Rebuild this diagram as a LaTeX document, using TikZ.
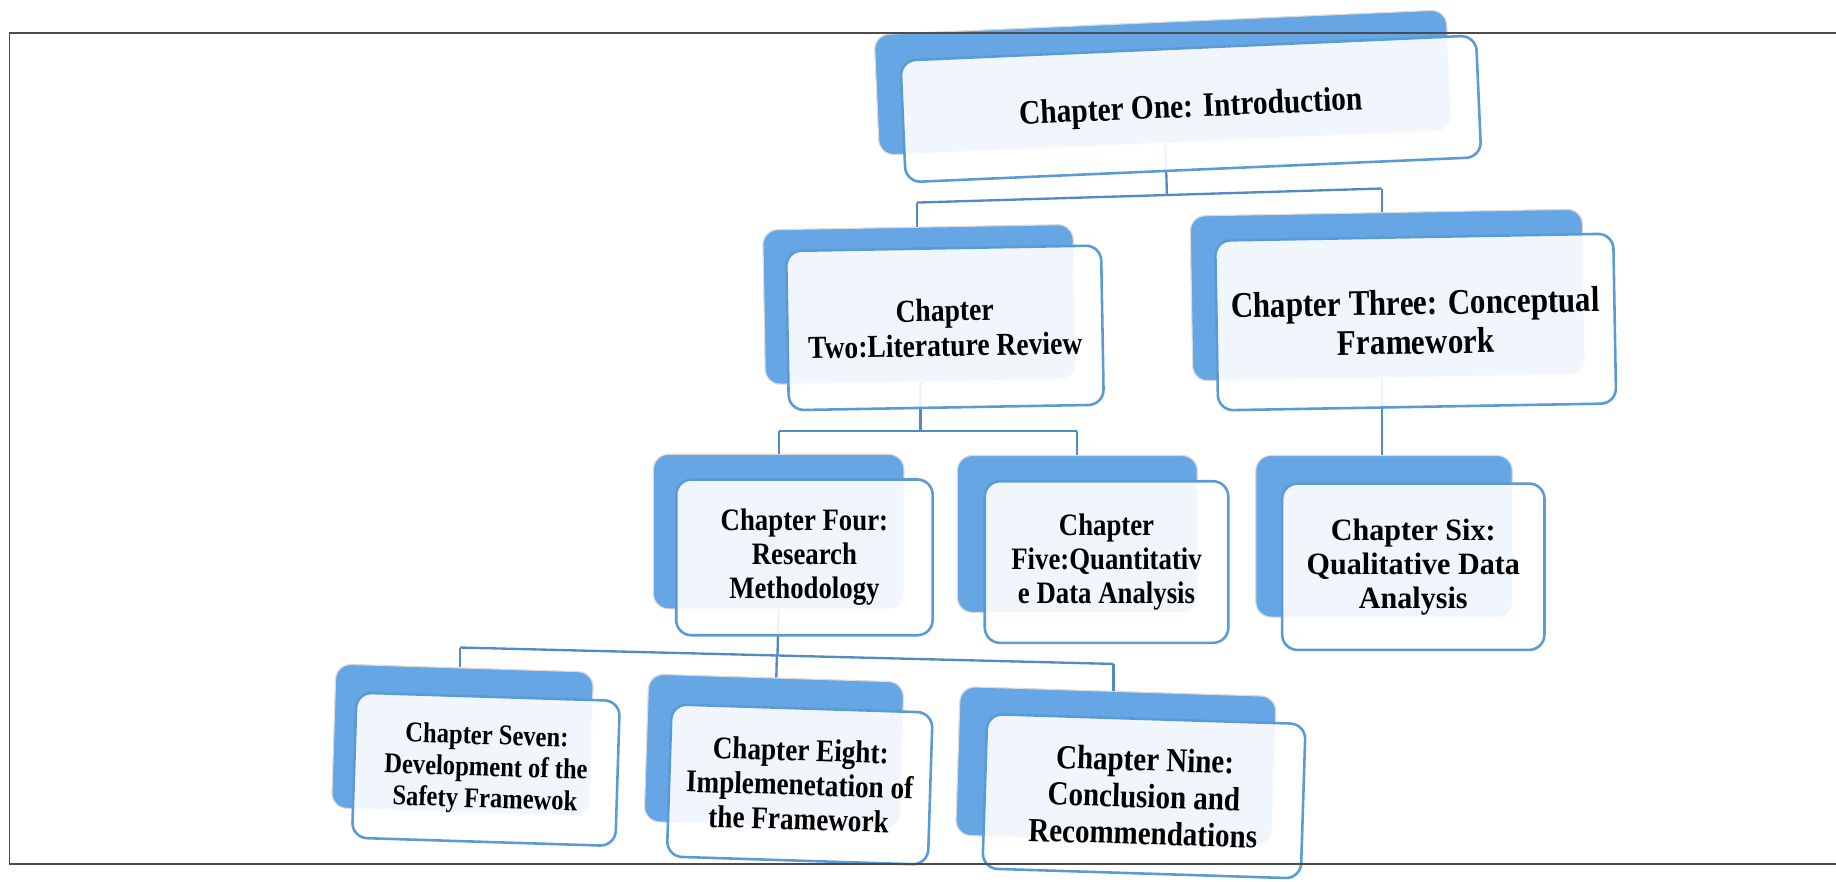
\documentclass[tikz,border=0pt]{standalone}
\usepackage{fontspec}
\usetikzlibrary{calc}
\newfontfamily\chapfont{Liberation Serif}[FakeStretch=0.86]
\newfontfamily\chapwide{Liberation Serif}[FakeStretch=0.97]
\definecolor{backblue}{RGB}{102,166,228}
\definecolor{edgeblue}{RGB}{91,155,213}
\definecolor{linkblue}{RGB}{84,138,196}
\tikzset{
  backbox/.style={rounded corners=13pt, fill=backblue, draw=black!14, line width=1pt, inner sep=0pt},
  frontbox/.style={rounded corners=13pt, fill=white, fill opacity=0.9, text opacity=1,
    draw=edgeblue, draw opacity=1, line width=2.2pt, inner sep=0pt, align=center},
  fs/.style 2 args={font=\chapfont\bfseries\fontsize{#1}{#2}\selectfont},
  fsw/.style 2 args={font=\chapwide\bfseries\fontsize{#1}{#2}\selectfont},
  link/.style={draw=linkblue, line width=2pt},
  frameline/.style={draw=black!70, line width=1.3pt}
}
\begin{document}
\begin{tikzpicture}[x=1pt, y=-1pt]
\useasboundingbox (0,0) rectangle (1568,753);

% back panels of every chapter
\node[backbox, minimum width=489pt, minimum height=103pt, rotate=2.5] (c1b) at (993,70.5) {};
\node[backbox, minimum width=265pt, minimum height=132pt, rotate=1] (c2b) at (785,260) {};
\node[backbox, minimum width=335pt, minimum height=141pt, rotate=1] (c3b) at (1185,252) {};
\node[backbox, minimum width=214pt, minimum height=132pt] (c4b) at (665,454) {};
\node[backbox, minimum width=205pt, minimum height=134pt] (c5b) at (920,456) {};
\node[backbox, minimum width=219pt, minimum height=138pt] (c6b) at (1182,458) {};
\node[backbox, minimum width=220pt, minimum height=123pt, rotate=-1.8] (c7b) at (395,632) {};
\node[backbox, minimum width=218pt, minimum height=126pt, rotate=-1.8] (c8b) at (661,642) {};
\node[backbox, minimum width=270pt, minimum height=127pt, rotate=-1.8] (c9b) at (953,654) {};

% bus junctions
\coordinate (j1l) at (783,173);
\coordinate (j1r) at (1180,161);
\coordinate (j2l) at (665,368);
\coordinate (j2r) at (920,368);
\coordinate (j4l) at (393,553);
\coordinate (j4r) at (951,567);

% connectors
\draw[link] (c1b.south) -- ($(j1l)!(c1b.south)!(j1r)$);
\draw[link] (j1l) -- (j1r);
\draw[link] (j1l) -- (j1l |- c2b.north);
\draw[link] (j1r) -- (j1r |- c3b.north);

\draw[link] (c2b.south) -- (c2b.south |- j2l);
\draw[link] (j2l) -- (j2r);
\draw[link] (j2l) -- (j2l |- c4b.north);
\draw[link] (j2r) -- (j2r |- c5b.north);

\draw[link] (c3b.south -| j1r) -- (j1r |- c6b.north);

\draw[link] (c4b.south) -- ($(j4l)!(c4b.south)!(j4r)$);
\draw[link] (j4l) -- (j4r);
\draw[link] (j4l) -- (j4l |- c7b.north);
\draw[link] ($(j4l)!(c8b.north)!(j4r)$) -- (c8b.north);
\draw[link] (j4r) -- (j4r |- c9b.north);

% front panels with the chapter titles
\node[frontbox, minimum width=492pt, minimum height=104pt, rotate=2.5, fs={29.2}{32}] (c1) at (1017,93)
  {Chapter One: Introduction};
\node[frontbox, minimum width=269pt, minimum height=136pt, rotate=1, fs={27.4}{30}] (c2) at (807,280)
  {Chapter\\Two:Literature Review};
\node[frontbox, minimum width=340pt, minimum height=145pt, rotate=1, fs={30.8}{33.5}] (c3) at (1209,275)
  {Chapter Three: Conceptual\\Framework};
\node[frontbox, minimum width=219pt, minimum height=133pt, fs={26.6}{29}] (c4) at (687,476)
  {Chapter Four:\\Research\\Methodology};
\node[frontbox, minimum width=208pt, minimum height=138pt, fs={26.6}{29}] (c5) at (945,480)
  {Chapter\\Five:Quantitativ\\e Data Analysis};
\node[frontbox, minimum width=224pt, minimum height=142pt, fsw={26.5}{29}] (c6) at (1207,484)
  {Chapter Six:\\Qualitative Data\\Analysis};
\node[frontbox, minimum width=225pt, minimum height=124pt, rotate=-1.8, fs={24.4}{27}] (c7) at (415,657)
  {Chapter Seven:\\Development of the\\Safety Framewok};
\node[frontbox, minimum width=223pt, minimum height=130pt, rotate=-1.8, fs={27}{29.5}] (c8) at (683,670)
  {Chapter Eight:\\Implemenetation of\\the Framework};
\node[frontbox, minimum width=272pt, minimum height=132pt, rotate=-1.8, fs={28.8}{31.5}] (c9) at (977,680)
  {Chapter Nine:\\Conclusion and\\Recommendations};

% page frame, open on the right
\draw[frameline] (1575,28) -- (8,28) -- (8,738) -- (1575,738);
\end{tikzpicture}
\end{document}
